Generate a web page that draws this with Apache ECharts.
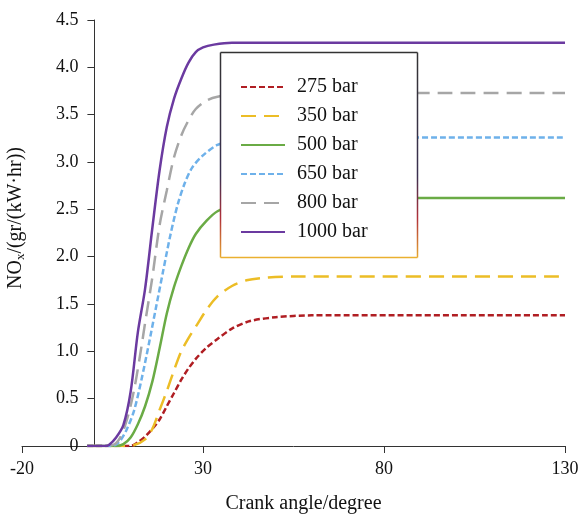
<!DOCTYPE html>
<html>
<head>
<meta charset="utf-8">
<script src="https://cdn.jsdelivr.net/npm/echarts@6/dist/echarts.min.js"></script>
<style>
  html, body { margin: 0; padding: 0; background: #fff; }
  #chart { width: 587px; height: 517px; }
</style>
</head>
<body>
<div id="chart"></div>
<script>
// NOx emission versus crank angle for several injection pressures
const seriesNames = ['275 bar', '350 bar', '500 bar', '650 bar', '800 bar', '1000 bar'];

// crank angle (degree) / NOx (gr/(kW·hr)) pairs for each pressure
const angle275 = [-2, 10, 12, 14, 16, 18, 20, 22, 24, 26, 28, 31, 34, 38, 43, 50, 60, 130];
const nox275   = [0, 0, 0.04, 0.10, 0.18, 0.28, 0.42, 0.56, 0.70, 0.82, 0.92, 1.04, 1.13, 1.24, 1.32, 1.36, 1.38, 1.38];

const angle350 = [-2, 8, 11, 14, 16, 18, 20, 22, 24, 26, 28, 31, 34, 38, 42, 48, 55, 130];
const nox350   = [0, 0, 0.01, 0.07, 0.18, 0.38, 0.58, 0.80, 1.00, 1.14, 1.26, 1.44, 1.58, 1.69, 1.75, 1.78, 1.79, 1.79];

const angle500 = [-2, 6, 8, 10, 12, 14, 16, 18, 20, 22, 24, 26, 28, 31, 34, 40, 46, 55, 130];
const nox500   = [0, 0, 0.02, 0.09, 0.23, 0.42, 0.68, 1.03, 1.40, 1.68, 1.90, 2.09, 2.24, 2.38, 2.48, 2.57, 2.61, 2.62, 2.62];

const angle650 = [-2, 5, 7, 9, 11, 13, 15, 17, 19, 21, 23, 25, 27, 30, 34, 40, 48, 130];
const nox650   = [0, 0, 0.05, 0.18, 0.38, 0.70, 1.07, 1.46, 1.85, 2.23, 2.55, 2.78, 2.94, 3.07, 3.18, 3.24, 3.26, 3.26];

const angle800 = [-2, 5, 7, 9, 11, 13, 14, 16, 18, 20, 22, 24, 26, 28, 31, 34, 40, 50, 130];
const nox800   = [0, 0.01, 0.08, 0.28, 0.60, 1.05, 1.30, 1.78, 2.33, 2.70, 3.05, 3.28, 3.44, 3.56, 3.65, 3.69, 3.72, 3.73, 3.73];

const angle1000 = [-2, 3, 4, 6, 8, 10, 12, 14, 16, 18, 20, 22, 24, 26, 28, 30, 33, 38, 130];
const nox1000   = [0, 0, 0.01, 0.09, 0.22, 0.57, 1.20, 1.66, 2.30, 2.91, 3.37, 3.67, 3.88, 4.05, 4.16, 4.21, 4.24, 4.26, 4.26];

const angles = [angle275, angle350, angle500, angle650, angle800, angle1000];
const values = [nox275, nox350, nox500, nox650, nox800, nox1000];

// axis ranges and ticks
const xMin = -20, xMax = 130, xStep = 50;
const yMin = 0, yMax = 4.5, yStep = 0.5;

const lineColors = ['#b01e23', '#ecbd26', '#6aab45', '#6eb1ea', '#a6a6a6', '#6b3aa0'];
const lineDashes = [[6, 3], [15, 8], 'solid', [6, 3], [15, 8], 'solid'];

const serif = 'Liberation Serif, Times New Roman, serif';
const axisColor = '#333';
const textColor = '#111';

// plot area in pixels; the value axis is drawn where the angle is zero
const gridLeft = 22, gridRight = 22, gridTop = 20, gridBottom = 71;
const chartWidth = 587;
const pxPerDegree = (chartWidth - gridLeft - gridRight) / (xMax - xMin);
const yAxisShift = -(0 - xMin) * pxPerDegree;

const chart = echarts.init(document.getElementById('chart'), null, { renderer: 'canvas' });

const series = seriesNames.map((name, i) => ({
  name: name,
  type: 'line',
  data: angles[i].map((a, k) => [a, values[i][k]]),
  smooth: 0.3,
  symbol: 'none',
  showSymbol: false,
  z: 2,
  lineStyle: { color: lineColors[i], width: 2.5, type: lineDashes[i], cap: 'butt' },
  itemStyle: { color: lineColors[i] }
}));

// legend frame: dark on top, fading to amber at the bottom
const frameL = 220.5, frameR = 417.5, frameT = 52.5, frameB = 257.5;
const sideGradient = {
  type: 'linear', x: 0, y: 0, x2: 0, y2: 1,
  colorStops: [
    { offset: 0, color: '#333' },
    { offset: 0.6, color: '#3a3050' },
    { offset: 0.8, color: '#b0303a' },
    { offset: 1, color: '#eab030' }
  ]
};

chart.setOption({
  animation: false,
  backgroundColor: '#fff',
  grid: {
    left: gridLeft, right: gridRight, top: gridTop, bottom: gridBottom,
    containLabel: false, outerBoundsMode: 'none'
  },
  xAxis: {
    type: 'value',
    min: xMin, max: xMax, interval: xStep,
    name: 'Crank angle/degree',
    nameLocation: 'middle',
    nameGap: 48,
    nameTextStyle: { fontFamily: serif, fontSize: 20, color: textColor, padding: [0, 0, 0, 20] },
    axisLine: { show: true, onZero: true, lineStyle: { color: axisColor, width: 1 } },
    axisTick: { show: true, inside: false, length: 7, lineStyle: { color: axisColor } },
    axisLabel: { fontFamily: serif, fontSize: 18, color: textColor, margin: 14 },
    splitLine: { show: false }
  },
  yAxis: {
    type: 'value',
    min: yMin, max: yMax, interval: yStep,
    position: 'left',
    offset: yAxisShift,
    name: '{a|NO}{b|x}{a|/(gr/(kW·hr))}',
    nameLocation: 'middle',
    nameGap: 67,
    nameTextStyle: {
      fontFamily: serif, fontSize: 20, color: textColor, padding: [0, 0, 0, 30],
      rich: {
        a: { fontFamily: serif, fontSize: 20, color: textColor, lineHeight: 24 },
        b: { fontFamily: serif, fontSize: 13, color: textColor, lineHeight: 24, padding: [10, 0, 0, 0] }
      }
    },
    axisLine: { show: true, onZero: false, lineStyle: { color: axisColor, width: 1 } },
    axisTick: { show: true, inside: false, length: 7, lineStyle: { color: axisColor } },
    axisLabel: {
      fontFamily: serif, fontSize: 18, color: textColor, margin: 16,
      formatter: v => (v === 0 ? '0' : v.toFixed(1))
    },
    splitLine: { show: false }
  },
  legend: {
    data: seriesNames,
    orient: 'vertical',
    left: 220, top: 52,
    z: 10,
    padding: [25, 50, 16, 20],
    itemWidth: 44, itemHeight: 14, itemGap: 9,
    backgroundColor: '#fff',
    borderWidth: 0,
    itemStyle: { opacity: 0 },
    textStyle: { fontFamily: serif, fontSize: 20, color: textColor, padding: [0, 0, 0, 7] }
  },
  graphic: [
    { type: 'line', z: 100, shape: { x1: frameL, y1: frameT, x2: frameR, y2: frameT }, style: { stroke: '#333', lineWidth: 1.5 } },
    { type: 'line', z: 100, shape: { x1: frameL, y1: frameT, x2: frameL, y2: frameB }, style: { stroke: sideGradient, lineWidth: 1.5 } },
    { type: 'line', z: 100, shape: { x1: frameR, y1: frameT, x2: frameR, y2: frameB }, style: { stroke: sideGradient, lineWidth: 1.5 } },
    { type: 'line', z: 100, shape: { x1: frameL, y1: frameB, x2: frameR, y2: frameB }, style: { stroke: '#eab030', lineWidth: 1.5 } }
  ],
  series: series
});
</script>
</body>
</html>
